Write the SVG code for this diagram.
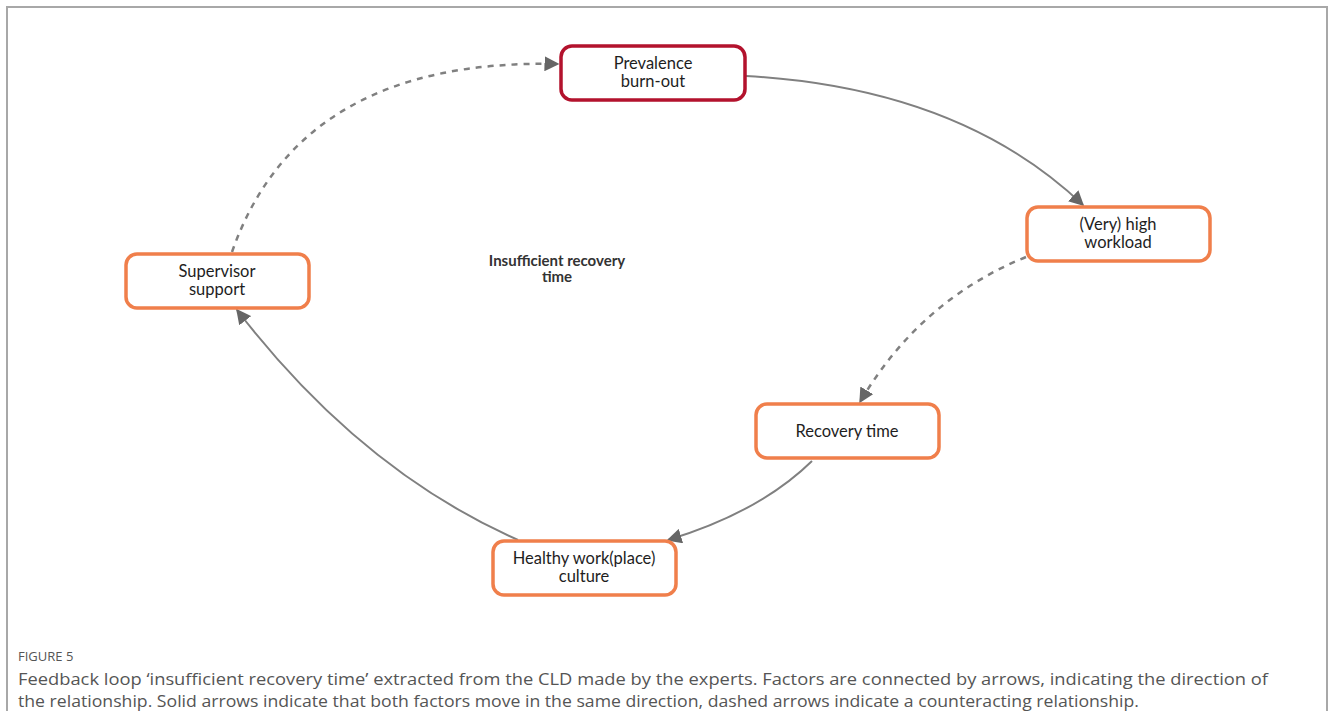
<svg xmlns="http://www.w3.org/2000/svg" width="1330" height="711" viewBox="0 0 1330 711">
<style>
.frame{fill:none;stroke:#a8a8a8;stroke-width:2}
.node rect{fill:#fff;stroke-width:3.5}
.orange rect{stroke:#f07f4b}
.red rect{stroke:#b3122d}
.lbl{font-family:Lato,"Liberation Sans",sans-serif;font-size:16.5px;fill:#1e1e1e;text-anchor:middle}
.title{font-family:Lato,"Liberation Sans",sans-serif;font-size:15px;font-weight:bold;fill:#333;text-anchor:middle}
.conn path{fill:none;stroke:#808080;stroke-width:2}
.conn .dash{stroke-dasharray:6,6;stroke-width:2.5}
.cap{font-family:"Open Sans","Liberation Sans",sans-serif;fill:#555}
</style>
<defs>
<marker id="ah" viewBox="0 0 10 10" refX="9" refY="5" markerWidth="15" markerHeight="15" markerUnits="userSpaceOnUse" orient="auto">
<path d="M0,0 L10,5 L0,10 z" fill="#666"/>
</marker>
</defs>
<rect x="0" y="0" width="1330" height="711" fill="#fff"/>
<path class="frame" d="M7,711 V7 H1327 V711"/>
<g id="connectors" class="conn">
<path d="M746,76 Q960,88 1083,205" marker-end="url(#ah)"/>
<path class="dash" d="M1026,257 Q920,300 860,402" marker-end="url(#ah)"/>
<path d="M812,461 Q760,512 668,540" marker-end="url(#ah)"/>
<path d="M518,540 Q360,470 237,310" marker-end="url(#ah)"/>
<path class="dash" d="M232,252 Q300,58 558,64" marker-end="url(#ah)"/>
</g>
<g id="prevalence" class="node red">
<rect x="561" y="46" width="184" height="54" rx="11"/>
<text class="lbl" x="653" y="69">Prevalence</text>
<text class="lbl" x="653" y="87">burn-out</text>
</g>
<g id="workload" class="node orange">
<rect x="1027" y="207" width="183" height="54" rx="11"/>
<text class="lbl" x="1118" y="230">(Very) high</text>
<text class="lbl" x="1118" y="248">workload</text>
</g>
<g id="supervisor" class="node orange">
<rect x="126" y="254" width="183" height="54" rx="11"/>
<text class="lbl" x="217" y="277">Supervisor</text>
<text class="lbl" x="217" y="295">support</text>
</g>
<g id="recovery" class="node orange">
<rect x="756" y="404" width="183" height="54" rx="11"/>
<text class="lbl" x="847" y="437">Recovery time</text>
</g>
<g id="healthy" class="node orange">
<rect x="493" y="541" width="183" height="54" rx="11"/>
<text class="lbl" x="584" y="564">Healthy work(place)</text>
<text class="lbl" x="584" y="582">culture</text>
</g>
<g id="loop-label">
<text class="title" x="557" y="266">Insufficient recovery</text>
<text class="title" x="557" y="282">time</text>
</g>
<g id="caption">
<text class="cap" x="18" y="661" font-size="13">FIGURE 5</text>
<text class="cap" x="18" y="685" font-size="17" textLength="1250" lengthAdjust="spacingAndGlyphs">Feedback loop ‘insufficient recovery time’ extracted from the CLD made by the experts. Factors are connected by arrows, indicating the direction of</text>
<text class="cap" x="18" y="707" font-size="17" textLength="1121" lengthAdjust="spacingAndGlyphs">the relationship. Solid arrows indicate that both factors move in the same direction, dashed arrows indicate a counteracting relationship.</text>
</g>
</svg>
